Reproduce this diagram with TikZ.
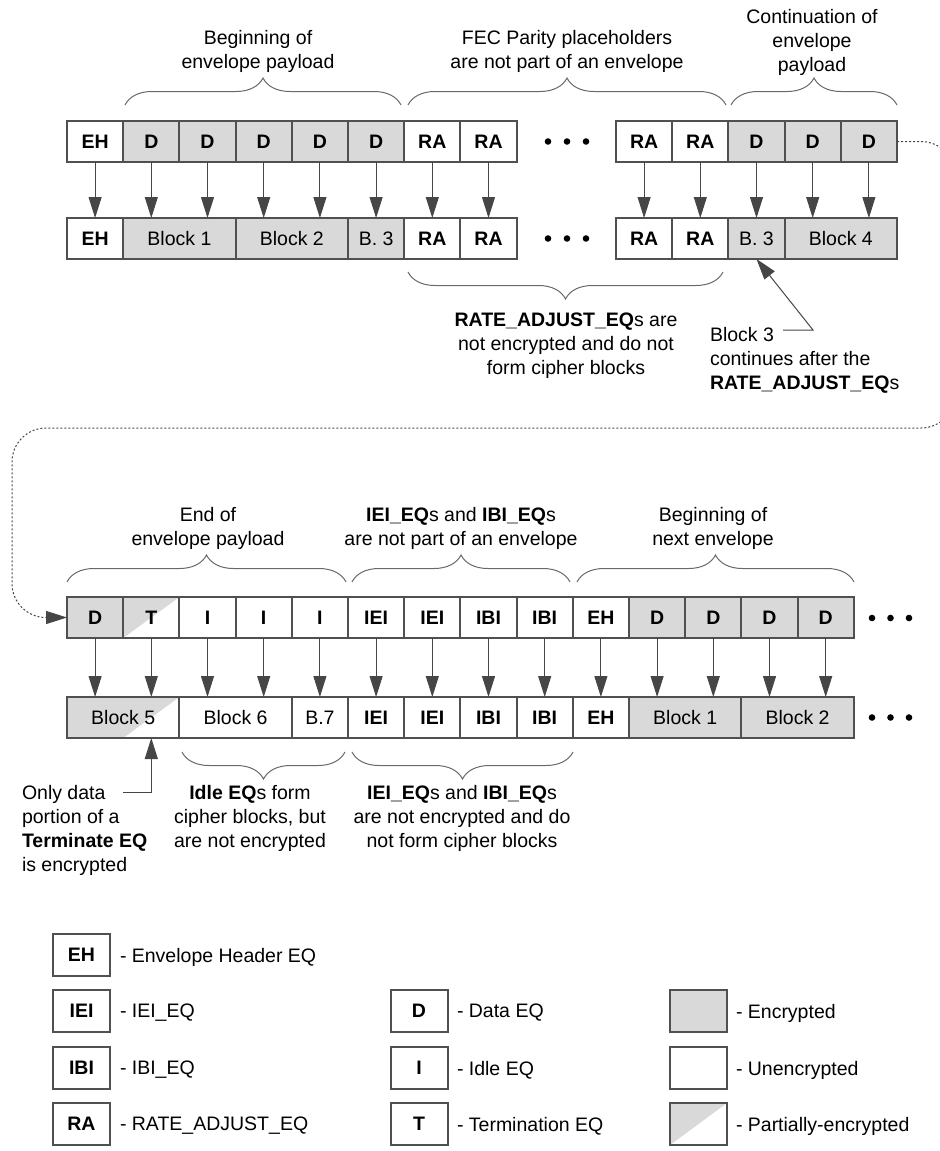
\documentclass[tikz,border=0pt]{standalone}
\usepackage{fontspec}
\setmainfont{Liberation Sans}
\usetikzlibrary{arrows.meta,decorations.pathreplacing,calc}
\definecolor{enc}{RGB}{217,217,217}
\definecolor{edge}{RGB}{80,80,80}
\definecolor{arrc}{RGB}{70,70,70}
\definecolor{brc}{RGB}{105,105,105}
\begin{document}
\begin{tikzpicture}[x=0.5pt,y=-0.5pt,
 every node/.style={font=\fontsize{9.75pt}{12pt}\selectfont, inner sep=0pt, outer sep=0pt},
 cell/.style={draw=edge, line width=1pt, minimum width=28.1pt, minimum height=20.5pt, fill=white, font=\fontsize{9.75pt}{12pt}\selectfont\bfseries},
 blk/.style={cell, font=\fontsize{9.75pt}{12pt}\selectfont},
 encr/.style={fill=enc},
 wide/.style={minimum width=56.2pt},
 partenc/.style={fill=white, path picture={\fill[enc] (path picture bounding box.north west) -- (path picture bounding box.north east) -- ([xshift=-#1]path picture bounding box.south east) -- (path picture bounding box.south west) -- cycle;}},
 lgbox/.style={cell, minimum width=28.5pt, minimum height=21pt},
 lgtext/.style={anchor=west},
 lbl/.style={align=center},
 arr/.style={draw=arrc, line width=0.5pt, -{Triangle[length=10.5pt,width=6.5pt,fill=arrc]}},
 dotc/.style={draw=arrc, line width=0.5pt, dash pattern=on 1pt off 1pt, rounded corners=17pt, -{Triangle[length=10.5pt,width=6.5pt,fill=arrc]}},
 bracetop/.style={draw=brc, line width=0.5pt, decorate, decoration={brace, amplitude=13.5pt}},
 bracebot/.style={draw=brc, line width=0.5pt, decorate, decoration={brace, mirror, amplitude=13.5pt}},
 dotfill/.style={fill=black}
]
\useasboundingbox (0,0) rectangle (940,1151);

% ---------- top section, upper row ----------
\node[cell] (a0) at (95.1,141.5) {EH};
\node[cell,encr] (a1) at (151.3,141.5) {D};
\node[cell,encr] (a2) at (207.5,141.5) {D};
\node[cell,encr] (a3) at (263.7,141.5) {D};
\node[cell,encr] (a4) at (319.9,141.5) {D};
\node[cell,encr] (a5) at (376.1,141.5) {D};
\node[cell] (a6) at (432.3,141.5) {RA};
\node[cell] (a7) at (488.5,141.5) {RA};
\node[cell] (a8) at (644.1,141.5) {RA};
\node[cell] (a9) at (700.3,141.5) {RA};
\node[cell,encr] (a10) at (756.5,141.5) {D};
\node[cell,encr] (a11) at (812.7,141.5) {D};
\node[cell,encr] (a12) at (868.9,141.5) {D};
\foreach \x in {548,567,586} \fill[dotfill] (\x,141.5) circle[radius=3.3];

% ---------- top section, lower row ----------
\node[cell] (b0) at (95.1,238.5) {EH};
\node[blk,encr,wide] (b1) at (179.4,238.5) {Block 1};
\node[blk,encr,wide] (b2) at (291.8,238.5) {Block 2};
\node[blk,encr] (b3) at (376.1,238.5) {B. 3};
\node[cell] (b4) at (432.3,238.5) {RA};
\node[cell] (b5) at (488.5,238.5) {RA};
\node[cell] (b6) at (644.1,238.5) {RA};
\node[cell] (b7) at (700.3,238.5) {RA};
\node[blk,encr] (b8) at (756.5,238.5) {B. 3};
\node[blk,encr,wide] (b9) at (840.8,238.5) {Block 4};
\foreach \x in {548,567,586} \fill[dotfill] (\x,238.5) circle[radius=3.3];

\foreach \s/\t in {a0/b0,a1/b1,a2/b1,a3/b2,a4/b2,a5/b3,a6/b4,a7/b5,a8/b6,a9/b7,a10/b8,a11/b9,a12/b9}
  \draw[arr] (\s.south) -- (\s.south |- \t.north);

% labels above
\node[lbl] (l1) at (258,51) {Beginning of\\envelope payload};
\draw[bracetop] (125,105) -- (401,105);
\node[lbl] (l2) at (567,51) {FEC Parity placeholders\\are not part of an envelope};
\draw[bracetop] (408,105) -- (726,105);
\node[lbl] (l3) at (812,42) {Continuation of\\envelope\\payload};
\draw[bracetop] (731,105) -- (897,105);

% labels below
\draw[bracebot] (408,272) -- (723,272);
\node[lbl] (l4) at (566,346) {\textbf{RATE\_ADJUST\_EQ}s are\\not encrypted and do not\\form cipher blocks};
\node[align=left, anchor=west] (l5) at (710,360) {Block 3\\continues after the\\\textbf{RATE\_ADJUST\_EQ}s};
\coordinate (c3) at (783,330);
\draw[arr] (c3) -- (813,330) -- (b8.south);

% ---------- bottom section, upper row ----------
\node[cell,encr] (c0) at (95.1,617.5) {D};
\node[cell,partenc=28.1pt] (c1) at (151.3,617.5) {T};
\node[cell] (c2) at (207.5,617.5) {I};
\node[cell] (c3b) at (263.7,617.5) {I};
\node[cell] (c4) at (319.9,617.5) {I};
\node[cell] (c5) at (376.1,617.5) {IEI};
\node[cell] (c6) at (432.3,617.5) {IEI};
\node[cell] (c7) at (488.5,617.5) {IBI};
\node[cell] (c8) at (544.7,617.5) {IBI};
\node[cell] (c9) at (600.9,617.5) {EH};
\node[cell,encr] (c10) at (657.1,617.5) {D};
\node[cell,encr] (c11) at (713.3,617.5) {D};
\node[cell,encr] (c12) at (769.5,617.5) {D};
\node[cell,encr] (c13) at (825.7,617.5) {D};
\foreach \x in {872,890.5,909} \fill[dotfill] (\x,618) circle[radius=3.3];

% ---------- bottom section, lower row ----------
\node[blk,wide,partenc=28.1pt] (d0) at (123.2,717.5) {Block 5};
\node[blk,wide] (d1) at (235.6,717.5) {Block 6};
\node[blk] (d2) at (319.9,717.5) {B.7};
\node[cell] (d3) at (376.1,717.5) {IEI};
\node[cell] (d4) at (432.3,717.5) {IEI};
\node[cell] (d5) at (488.5,717.5) {IBI};
\node[cell] (d6) at (544.7,717.5) {IBI};
\node[cell] (d7) at (600.9,717.5) {EH};
\node[blk,encr,wide] (d8) at (685.2,717.5) {Block 1};
\node[blk,encr,wide] (d9) at (797.6,717.5) {Block 2};
\foreach \x in {872,890.5,909} \fill[dotfill] (\x,717.5) circle[radius=3.3];

\foreach \s/\t in {c0/d0,c1/d0,c2/d1,c3b/d1,c4/d2,c5/d3,c6/d4,c7/d5,c8/d6,c9/d7,c10/d8,c11/d8,c12/d9,c13/d9}
  \draw[arr] (\s.south) -- (\s.south |- \t.north);

% dotted continuation connector
\begin{scope}
\clip (0,0) rectangle (940,1151);
\draw[dotc] (a12.east) -- (955,141.5) -- (955,428) -- (12,428) -- (12,617.5) -- (c0.west);
\end{scope}

% labels above bottom section
\node[lbl] (l6) at (208,528) {End of\\envelope payload};
\draw[bracetop] (67,582) -- (346,582);
\node[lbl] (l7) at (461,528) {\textbf{IEI\_EQ}s and \textbf{IBI\_EQ}s\\are not part of an envelope};
\draw[bracetop] (352,582) -- (570,582);
\node[lbl] (l8) at (713,528) {Beginning of\\next envelope};
\draw[bracetop] (577,582) -- (854,582);

% labels below bottom section
\draw[bracebot] (182,752) -- (345,752);
\draw[bracebot] (352,752) -- (573,752);
\node[align=left, anchor=west] (l9) at (22,830) {Only data\\portion of a\\\textbf{Terminate EQ}\\is encrypted};
\coordinate (c5t) at (123,792);
\draw[arr] (c5t) -| (d0.south -| c1.south);
\node[lbl] (l10) at (250,818) {\textbf{Idle EQ}s form\\cipher blocks, but\\are not encrypted};
\node[lbl] (l11) at (462,818) {\textbf{IEI\_EQ}s and \textbf{IBI\_EQ}s\\are not encrypted and do\\not form cipher blocks};

% ---------- legend ----------
\node[lgbox] (gEH) at (81.5,955) {EH};
\node[lgtext] (tEH) at (120,957) {- Envelope Header EQ};
\node[lgbox] (gIEI) at (81.5,1011) {IEI};
\node[lgtext] (tIEI) at (120,1013) {- IEI\_EQ};
\node[lgbox] (gIBI) at (81.5,1068) {IBI};
\node[lgtext] (tIBI) at (120,1070) {- IBI\_EQ};
\node[lgbox] (gRA) at (81.5,1124) {RA};
\node[lgtext] (tRA) at (120,1126) {- RATE\_ADJUST\_EQ};

\node[lgbox] (gD) at (419,1011) {D};
\node[lgtext] (tD) at (457,1013) {- Data EQ};
\node[lgbox] (gI) at (419,1068) {I};
\node[lgtext] (tI) at (457,1070) {- Idle EQ};
\node[lgbox] (gT) at (419,1124) {T};
\node[lgtext] (tT) at (457,1126) {- Termination EQ};

\node[lgbox,encr] (gE) at (698.5,1011) {};
\node[lgtext] (tE) at (736,1013) {- Encrypted};
\node[lgbox] (gU) at (698.5,1068) {};
\node[lgtext] (tU) at (736,1070) {- Unencrypted};
\node[lgbox,partenc=28.5pt] (gP) at (698.5,1124) {};
\node[lgtext] (tP) at (736,1126) {- Partially-encrypted};
\end{tikzpicture}
\end{document}
